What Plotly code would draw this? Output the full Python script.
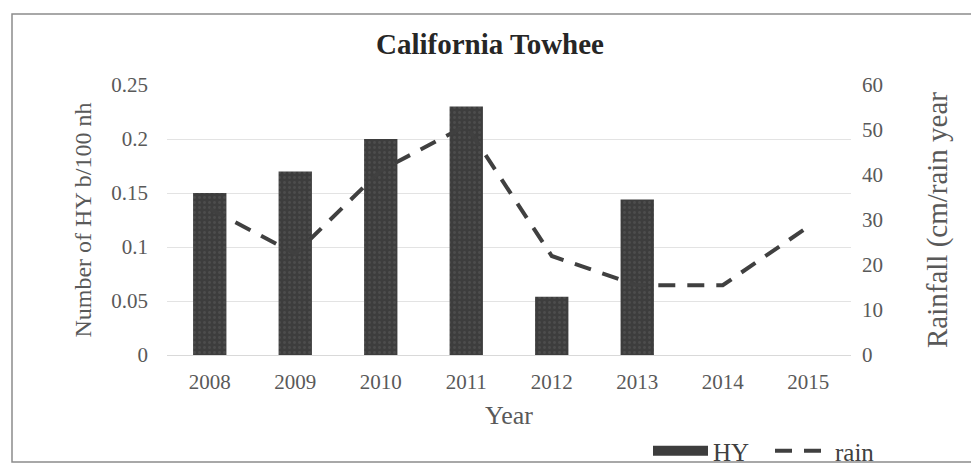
import plotly.graph_objects as go

years = ["2008", "2009", "2010", "2011", "2012", "2013", "2014", "2015"]
hy = [0.15, 0.17, 0.20, 0.23, 0.054, 0.144, 0, 0]
rain = [32.5, 22.5, 41, 51, 22, 15.5, 15.5, 28.5]

left_ticks = [0, 0.05, 0.1, 0.15, 0.2, 0.25]
left_labels = ["0", "0.05", "0.1", "0.15", "0.2", "0.25"]
right_ticks = [0, 10, 20, 30, 40, 50, 60]

chart_title = "California Towhee"

FONT = "Liberation Serif"
GRAY = "#595959"
BARC = "#3d3d3d"

fig = go.Figure()
fig.add_trace(go.Bar(
    x=years, y=hy, name="HY", width=0.39, showlegend=False,
    marker=dict(color=BARC, line=dict(width=0),
                pattern=dict(shape=".", fgcolor="#5c5c5c", bgcolor=BARC, size=5, solidity=0.25)),
    yaxis="y",
))
# legend entry for the bars (wide swatch like the original)
fig.add_trace(go.Scatter(
    x=[None], y=[None], name="HY", mode="lines",
    line=dict(color=BARC, width=10), yaxis="y",
))
fig.add_trace(go.Scatter(
    x=years, y=rain, name="rain", mode="lines",
    line=dict(color="#404040", width=4, dash="17px,12px"),
    yaxis="y2",
))

W, H = 971, 466
L, R, T, B = 167, 120, 85, 111
pw, ph = W - L - R, H - T - B

def px(x):
    return (x - L) / pw

def py(y):
    return (H - B - y) / ph

fig.update_layout(
    width=W, height=H,
    margin=dict(l=L, r=R, t=T, b=B, autoexpand=False),
    paper_bgcolor="white", plot_bgcolor="white",
    font=dict(family=FONT, color=GRAY, size=20),
    xaxis=dict(type="category", categoryorder="array", categoryarray=years,
               showgrid=False, ticks="", ticklabelstandoff=8, automargin=False,
               showline=True, linecolor="#d9d9d9", linewidth=1,
               tickfont=dict(size=21, color=GRAY),
               title=dict(text="Year", font=dict(size=26, color=GRAY), standoff=12)),
    yaxis=dict(range=[0, 0.25], tickvals=left_ticks, ticktext=left_labels,
               showgrid=True, gridcolor="#e3e3e3", gridwidth=1, zeroline=False,
               ticks="", ticklabelstandoff=18, automargin=False,
               tickfont=dict(size=21, color=GRAY),
               title=dict(text="Number of HY b/100 nh", font=dict(size=24, color=GRAY), standoff=12)),
    yaxis2=dict(range=[0, 60], tickvals=right_ticks, overlaying="y", side="right",
                showgrid=False, zeroline=False, ticks="", ticklabelstandoff=10, automargin=False,
                tickfont=dict(size=21, color=GRAY),
                title=dict(text="Rainfall (cm/rain year", font=dict(size=29, color=GRAY), standoff=44)),
    showlegend=True,
    legend=dict(orientation="h", x=px(648), xanchor="left", y=py(451), yanchor="middle",
                font=dict(size=25, color="#404040"), bgcolor="rgba(0,0,0,0)",
                itemwidth=55, entrywidth=52, entrywidthmode="pixels", tracegroupgap=0),
    annotations=[dict(text="<b>" + chart_title + "</b>", xref="paper", yref="paper",
                      x=px(490), y=py(44), xanchor="center", yanchor="middle", showarrow=False,
                      font=dict(family=FONT, size=29, color="#262626"))],
    shapes=[dict(type="rect", xref="paper", yref="paper",
                 x0=px(12), x1=px(990), y0=py(462), y1=py(14),
                 line=dict(color="#8c8c8c", width=1.5), layer="below")],
)

fig.write_html("out.html")
